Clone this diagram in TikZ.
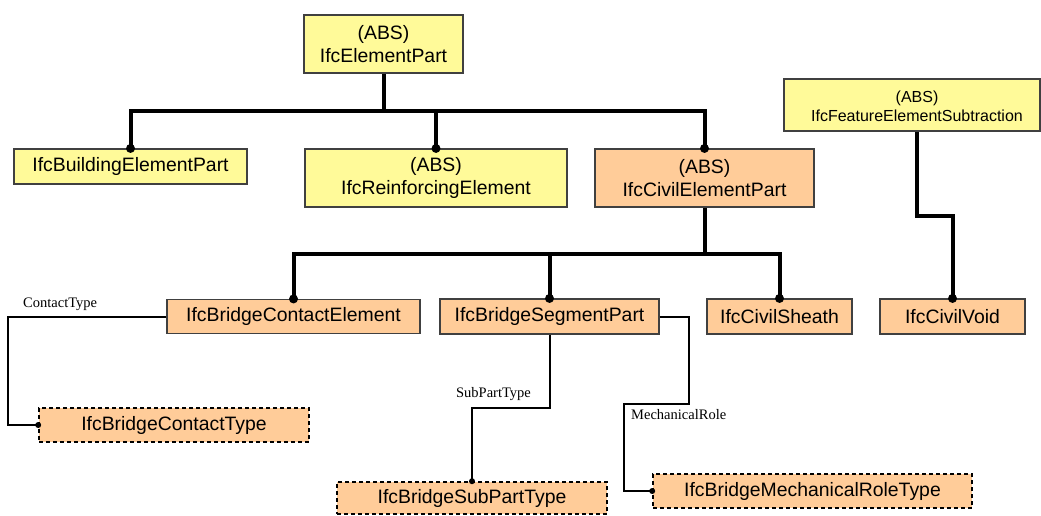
\documentclass[tikz,border=0pt]{standalone}
\usepackage{fontspec}
\setmainfont{Liberation Sans}
\newfontfamily\lblfont{Liberation Serif}
\begin{document}
\begin{tikzpicture}[x=1pt,y=-1pt,
  box/.style={draw=black!75, line width=1.1pt, inner sep=0pt, align=center,
    font=\fontsize{19.4}{23.5}\selectfont},
  yel/.style={box, fill=yellow!40},
  org/.style={box, fill=orange!40!white},
  dsh/.style={org, draw=black, line width=1.6pt, dash pattern=on 4pt off 3pt},
  inh/.style={line width=4pt},
  rel/.style={line width=2pt},
  lbl/.style={inner sep=0pt, font=\lblfont\fontsize{14.5}{16}\selectfont},
]
\useasboundingbox (0,0) rectangle (1041,515);
% nodes
\node[yel, minimum width=159, minimum height=58] (EP) at (383.5,44) {(ABS)\\IfcElementPart};
\node[yel, minimum width=233, minimum height=35] (BEP) at (130.5,166.5) {IfcBuildingElementPart};
\node[yel, minimum width=262, minimum height=58] (RE) at (436,178) {(ABS)\\IfcReinforcingElement};
\node[org, minimum width=219, minimum height=58] (CEP) at (704.5,178) {(ABS)\\IfcCivilElementPart};
\node[yel, minimum width=256, minimum height=52, font=\fontsize{16}{19}\selectfont] (FES) at (912,105) {};
\node[inner sep=0pt, align=center, font=\fontsize{16}{19}\selectfont] (FEST) at (917,106) {(ABS)\\IfcFeatureElementSubtraction};
\node[org, minimum width=253, minimum height=34] (BCE) at (293.5,316.5) {IfcBridgeContactElement};
\node[org, minimum width=219, minimum height=35] (BSP) at (549.5,316.5) {IfcBridgeSegmentPart};
\node[org, minimum width=145, minimum height=35] (CS) at (779.5,316.5) {IfcCivilSheath};
\node[org, minimum width=145, minimum height=35] (CV) at (952.5,316.5) {IfcCivilVoid};
\node[dsh, minimum width=270, minimum height=34] (BCT) at (174,425) {IfcBridgeContactType};
\node[dsh, minimum width=270, minimum height=32] (SPT) at (472,498) {IfcBridgeSubPartType};
\node[dsh, minimum width=319, minimum height=34] (MRT) at (812.5,491) {IfcBridgeMechanicalRoleType};
% inheritance connectors
\draw[inh] (EP.south) -- ++(0,37) coordinate (b1) -| (BEP.north);
\draw[inh] (b1) -| (RE.north);
\draw[inh] (b1) -| (CEP.north);
\draw[inh] (CEP.south) -- ++(0,46) coordinate (b2) -| (BCE.north);
\draw[inh] (b2) -| (BSP.north);
\draw[inh] (b2) -| (CS.north);
\draw[inh] (FEST |- FES.south) -- ++(0,84) -| (CV.north);
\foreach \n in {BEP,RE,CEP,BCE,BSP,CS,CV} \fill (\n.north) circle (4.5);
% relationship connectors
\draw[rel] (BCE.west) -- ++(-158,0) |- (BCT.west);
\draw[rel] (BSP.south) -- ++(0,73) -| (SPT.north);
\draw[rel] (BSP.east) -- ++(29,0) -- ++(0,87) -- ++(-65,0) |- (MRT.west);
\foreach \n/\a in {BCT/west,SPT/north,MRT/west} \fill (\n.\a) circle (3);
% labels
\node[lbl, anchor=west] (lct) at (23,304) {ContactType};
\node[lbl] (lspt) at (493.5,394) {SubPartType};
\node[lbl, anchor=west] (lmr) at (631,415) {MechanicalRole};
\end{tikzpicture}
\end{document}
